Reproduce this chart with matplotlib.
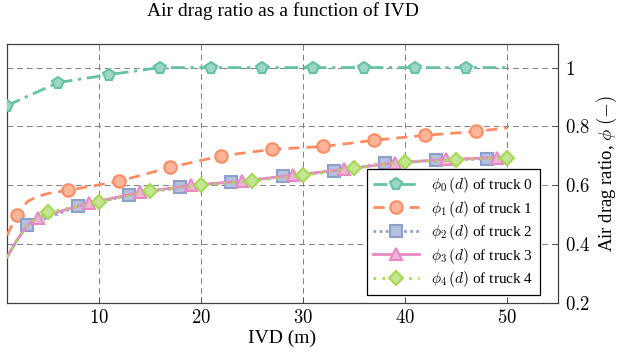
import matplotlib
matplotlib.use("Agg")
import matplotlib.pyplot as plt
import matplotlib.colors as mcolors
import numpy as np

plt.rcParams['font.family'] = ['Liberation Serif', 'DejaVu Serif']
plt.rcParams['mathtext.fontset'] = 'cm'

# Data (IVD in m, air drag ratio)
d0 = [1, 6, 11, 16, 21, 26, 31, 36, 41, 46, 50]
phi0 = [0.871, 0.949, 0.976, 1.0, 1.0, 1.0, 1.0, 1.0, 1.0, 1.0, 1.0]
mk0 = [0, 1, 2, 3, 4, 5, 6, 7, 8, 9]

d1 = [1, 2, 3, 4, 5, 7, 12, 17, 22, 27, 32, 37, 42, 47, 50]
phi1 = [0.43, 0.50, 0.545, 0.562, 0.572, 0.583, 0.614, 0.661, 0.70, 0.722, 0.732, 0.753, 0.77, 0.783, 0.795]
mk1 = [1, 5, 6, 7, 8, 9, 10, 11, 12, 13]

d2 = [1, 2, 3, 8, 13, 18, 23, 28, 33, 38, 43, 48, 50]
phi2 = [0.356, 0.415, 0.464, 0.529, 0.566, 0.593, 0.611, 0.63, 0.647, 0.675, 0.685, 0.69, 0.693]
mk2 = [2, 3, 4, 5, 6, 7, 8, 9, 10, 11]

d3 = [1, 2, 3, 4, 9, 14, 19, 24, 29, 34, 39, 44, 49, 50]
phi3 = [0.356, 0.415, 0.464, 0.49, 0.539, 0.576, 0.60, 0.614, 0.634, 0.654, 0.676, 0.688, 0.694, 0.694]
mk3 = [3, 4, 5, 6, 7, 8, 9, 10, 11, 12]

d4 = [1, 2, 3, 4, 5, 10, 15, 20, 25, 30, 35, 40, 45, 50]
phi4 = [0.356, 0.415, 0.464, 0.49, 0.508, 0.543, 0.58, 0.60, 0.614, 0.634, 0.658, 0.68, 0.686, 0.694]
mk4 = [4, 5, 6, 7, 8, 9, 10, 11, 12, 13]

labels = [r'$\phi_0\,(d)$ of truck 0', r'$\phi_1\,(d)$ of truck 1', r'$\phi_2\,(d)$ of truck 2',
          r'$\phi_3\,(d)$ of truck 3', r'$\phi_4\,(d)$ of truck 4']
colors = ['#66c2a5', '#fc8d62', '#8da0cb', '#e78ac3', '#a6d854']
markers = ['p', 'o', 's', '^', 'D']
msizes = [8.5, 9, 9, 9, 7]
styles = [(0, (5, 2, 1.2, 2)), (0, (4, 2.5)), (0, (1, 1.2)), '-', (0, (1, 2.2))]

xticks = [10, 20, 30, 40, 50]
xticklabels = ['$10$', '$20$', '$30$', '$40$', '$50$']
yticks = [0.2, 0.4, 0.6, 0.8, 1.0]
yticklabels = ['$0.2$', '$0.4$', '$0.6$', '$0.8$', '$1$']

def lighten(c, f=0.35):
    r, g, b = mcolors.to_rgb(c)
    return (r + (1 - r) * f, g + (1 - g) * f, b + (1 - b) * f)

fig = plt.figure(figsize=(6.2, 3.58), dpi=100)
ax = fig.add_axes([0.0113, 0.1536, 0.8887, 0.7234])

series = [(d0, phi0, mk0), (d1, phi1, mk1), (d2, phi2, mk2), (d3, phi3, mk3), (d4, phi4, mk4)]
for i, (d, p, mk) in enumerate(series):
    ax.plot(d, p, color=colors[i], linestyle=styles[i], linewidth=2.0,
            marker=markers[i], markevery=mk, markersize=msizes[i],
            markerfacecolor=lighten(colors[i]), markeredgecolor=colors[i],
            markeredgewidth=1.5, label=labels[i], zorder=3)

ax.set_xlim(1, 55)
ax.set_ylim(0.2, 1.08)
ax.set_xticks(xticks)
ax.set_xticklabels(xticklabels)
ax.set_yticks(yticks)
ax.set_yticklabels(yticklabels)
ax.yaxis.tick_right()
ax.yaxis.set_label_position('right')
ax.tick_params(direction='in', length=4, width=0.6, colors='#444444', labelcolor='black',
               labelsize=13.5)
ax.tick_params(axis='y', pad=5)
ax.tick_params(axis='x', pad=4)
ax.grid(True, color='#808080', linestyle=(0, (6, 4)), linewidth=0.7)
for s in ax.spines.values():
    s.set_color('#404040')
    s.set_linewidth(0.9)

ax.set_xlabel('IVD (m)', fontsize=14, labelpad=2)
ax.set_ylabel(r'Air drag ratio, $\phi$ $(-)$', fontsize=13.5, labelpad=3)
ax.set_title('Air drag ratio as a function of IVD', fontsize=14, pad=20)

leg = ax.legend(loc='lower right', bbox_to_anchor=(0.967, 0.031), borderaxespad=0,
                fontsize=11, fancybox=False, framealpha=1, edgecolor='black',
                handlelength=3.0, borderpad=0.4, labelspacing=0.22)
leg.get_frame().set_linewidth(0.9)

fig.savefig('out.png', dpi=100)
